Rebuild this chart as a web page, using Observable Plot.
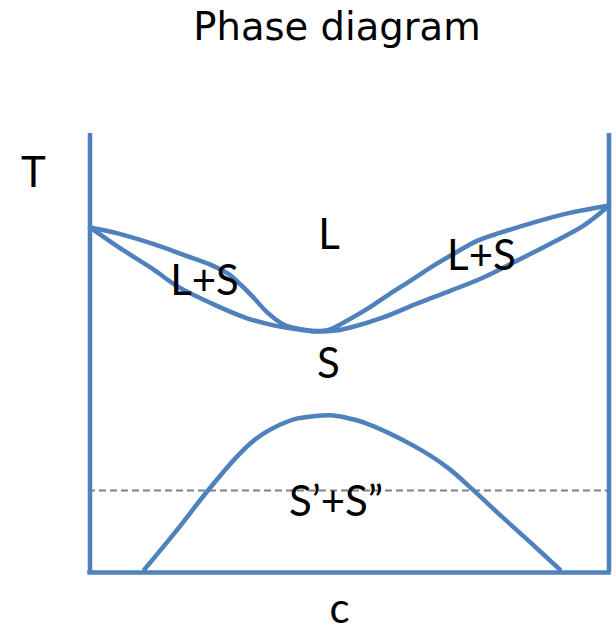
<!DOCTYPE html>
<html>
<head>
<meta charset="utf-8">
<script src="https://cdn.jsdelivr.net/npm/d3@7"></script>
<script src="https://cdn.jsdelivr.net/npm/@observablehq/plot@0.6"></script>
<style>
  html, body { margin: 0; padding: 0; background: #fff; overflow: hidden; }
</style>
</head>
<body>
<div id="chart"></div>
<script>
// Liquidus (upper boundary of L+S)
const liquidusC = [0, 5.5, 12.0, 18.4, 23.6, 26.8, 29.0, 31.3, 34.2, 37.3, 40.6, 43.4, 46.3, 48.8, 53.5, 57.9, 61.8, 66.2, 69.5, 74.7, 79.1, 85.4, 92.0, 100];
const liquidusT = [78.6, 77.2, 74.9, 72.2, 69.9, 67.9, 65.6, 62.9, 59.2, 56.5, 55.4, 55.0, 55.4, 56.9, 60.1, 63.6, 66.5, 69.9, 72.2, 75.6, 77.4, 79.7, 81.8, 83.6];
// Solidus (lower boundary of L+S)
const solidusC = [0, 5.5, 12.0, 17.1, 23.6, 30.3, 35.4, 40.0, 43.4, 47.3, 50.2, 56.5, 63.1, 69.5, 75.8, 82.4, 88.7, 95.1, 100];
const solidusT = [78.6, 74.1, 69.2, 65.0, 61.2, 57.9, 56.3, 55.4, 54.9, 55.1, 55.8, 58.1, 61.3, 64.2, 67.2, 71.1, 74.9, 79.0, 83.6];
// Miscibility gap dome (S' + S'')
const domeC = [10.5, 16.7, 22.6, 28.0, 30.9, 33.8, 36.7, 40.0, 43.1, 46.3, 49.2, 52.7, 62.3, 68.9, 73.9, 79.1, 84.9, 90.5];
const domeT = [0.7, 9.6, 18.5, 26.0, 29.4, 31.9, 33.7, 35.1, 35.6, 35.8, 35.3, 34.2, 28.9, 23.9, 18.7, 13.0, 6.8, 0.7];
// Dashed isotherm
const isothermT = 18.7;
// Labels
const labelText = ["T", "L", "L+S", "L+S", "S", "S\u2019+S\u201D", "c"];
const labelC = [-10.9, 46.05, 22.06, 75.43, 45.95, 47.4, 48.07];
const labelT = [87.7, 73.8, 63.1, 68.8, 44.2, 12.76, -11.4];
const titleText = "Phase diagram";
const titleC = 47.59;
const titleT = 121.2;

const toRows = (cs, ts) => cs.map((c, i) => ({c, T: ts[i]}));
const liquidus = toRows(liquidusC, liquidusT);
const solidus = toRows(solidusC, solidusT);
const dome = toRows(domeC, domeT);
const labels = labelText.map((t, i) => ({text: t, c: labelC[i], T: labelT[i]}));

const blue = "#4F81BD";
const sw = 4.5;

const chart = Plot.plot({
  width: 616,
  height: 631,
  marginLeft: 89.5,
  marginRight: 7.5,
  marginTop: 133,
  marginBottom: 59,
  x: {domain: [0, 100], axis: null},
  y: {domain: [0, 100], axis: null},
  style: {background: "#fff", fontFamily: "Lato, 'Open Sans', sans-serif", overflow: "visible"},
  marks: [
    Plot.ruleY([isothermT], {x1: -0.3, x2: 100, stroke: "#808080", strokeWidth: 2, strokeDasharray: "7,4"}),
    Plot.line(liquidus, {x: "c", y: "T", curve: "catmull-rom", stroke: blue, strokeWidth: sw}),
    Plot.line(solidus, {x: "c", y: "T", curve: "catmull-rom", stroke: blue, strokeWidth: sw}),
    Plot.line(dome, {x: "c", y: "T", curve: "catmull-rom", stroke: blue, strokeWidth: sw}),
    Plot.ruleX([0, 100], {y1: 0, y2: 100, stroke: blue, strokeWidth: sw}),
    Plot.ruleY([0], {x1: 0, x2: 100, stroke: blue, strokeWidth: sw, strokeLinecap: "square"}),
    Plot.text(labels, {x: "c", y: "T", text: "text", fontSize: 42, fill: "#000", lineAnchor: "bottom", textAnchor: "middle"}),
    Plot.text([titleText], {x: () => titleC, y: () => titleT, text: d => d, fontSize: 38.5, fontFamily: "'DejaVu Sans', sans-serif", fill: "#000", lineAnchor: "bottom", textAnchor: "middle"})
  ]
});
document.getElementById("chart").appendChild(chart);
</script>
</body>
</html>
